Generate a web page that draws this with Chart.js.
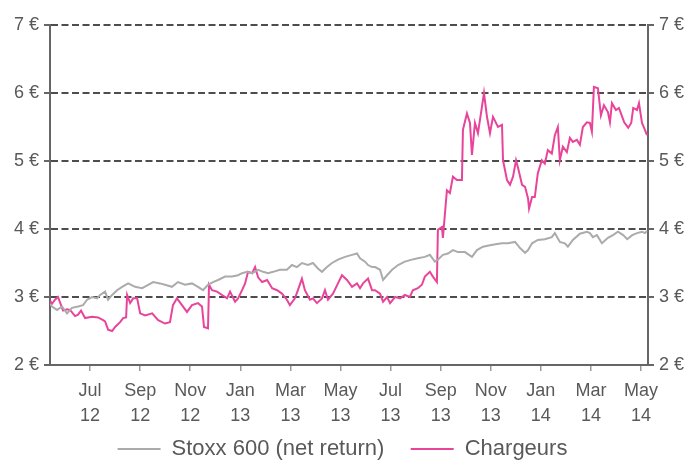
<!DOCTYPE html>
<html>
<head>
<meta charset="utf-8">
<script src="https://cdn.jsdelivr.net/npm/chart.js@4.4.1/dist/chart.umd.min.js"></script>
<style>
  html, body { margin: 0; padding: 0; background: #fff; }
  #wrap { width: 685px; height: 466px; }
</style>
</head>
<body>
<div id="wrap"><canvas id="perfChart" width="685" height="466"></canvas></div>
<script>
// months counted from Jan 2012 (6 = Jul 12)
const tickMonths = [6, 8, 10, 12, 14, 16, 18, 20, 22, 24, 26, 28]
const tickLabels = [["Jul", "12"], ["Sep", "12"], ["Nov", "12"], ["Jan", "13"], ["Mar", "13"], ["May", "13"],
                    ["Jul", "13"], ["Sep", "13"], ["Nov", "13"], ["Jan", "14"], ["Mar", "14"], ["May", "14"]]

const stoxxDates = [4.40, 4.48, 4.68, 4.88, 5.08, 5.28, 5.52, 5.72, 5.88, 6.08, 6.28, 6.40, 6.60, 6.72, 6.88, 7.08,
  7.28, 7.52, 7.80, 8.08, 8.32, 8.52, 8.79, 8.99, 9.27, 9.51, 9.79, 10.07, 10.31, 10.51, 10.71, 10.91,
  11.11, 11.39, 11.67, 11.91, 12.07, 12.27, 12.47, 12.71, 12.91, 13.11, 13.31, 13.58, 13.86, 14.06, 14.26, 14.46,
  14.70, 14.90, 15.10, 15.26, 15.46, 15.66, 15.90, 16.18, 16.46, 16.66, 16.78, 16.98, 17.10, 17.26, 17.38, 17.58,
  17.70, 17.86, 18.06, 18.30, 18.57, 18.85, 19.09, 19.37, 19.57, 19.77, 19.89, 20.09, 20.29, 20.49, 20.69, 20.97,
  21.25, 21.45, 21.69, 21.97, 22.25, 22.45, 22.69, 22.97, 23.17, 23.37, 23.49, 23.65, 23.88, 24.16, 24.44, 24.56,
  24.76, 24.96, 25.08, 25.28, 25.56, 25.84, 25.96, 26.08, 26.24, 26.44, 26.68, 26.88, 27.08, 27.29, 27.45, 27.65,
  27.84, 28.04, 28.16, 28.24]
const stoxxValues = [2.90, 2.86, 2.81, 2.86, 2.76, 2.84, 2.86, 2.88, 2.96, 3.00, 2.98, 3.03, 3.08, 2.96, 3.03, 3.10,
  3.15, 3.20, 3.15, 3.13, 3.18, 3.22, 3.20, 3.18, 3.15, 3.22, 3.18, 3.20, 3.15, 3.10, 3.18, 3.22,
  3.25, 3.30, 3.30, 3.32, 3.35, 3.37, 3.35, 3.40, 3.37, 3.35, 3.37, 3.40, 3.40, 3.47, 3.44, 3.50,
  3.47, 3.50, 3.42, 3.37, 3.44, 3.50, 3.55, 3.59, 3.62, 3.64, 3.57, 3.52, 3.47, 3.44, 3.44, 3.40,
  3.25, 3.32, 3.40, 3.47, 3.52, 3.55, 3.57, 3.59, 3.62, 3.52, 3.55, 3.62, 3.64, 3.69, 3.66, 3.66,
  3.59, 3.69, 3.74, 3.76, 3.78, 3.79, 3.79, 3.81, 3.72, 3.65, 3.69, 3.79, 3.84, 3.85, 3.88, 3.94,
  3.81, 3.79, 3.74, 3.84, 3.93, 3.96, 3.94, 3.88, 3.91, 3.79, 3.87, 3.91, 3.96, 3.91, 3.85, 3.91,
  3.94, 3.96, 3.94, 3.97]

const chargeursDates = [4.40, 4.48, 4.60, 4.72, 4.80, 4.92, 5.08, 5.20, 5.40, 5.52, 5.64, 5.80, 6.08, 6.32, 6.52, 6.60,
  6.72, 6.88, 7.00, 7.20, 7.32, 7.44, 7.48, 7.60, 7.72, 7.88, 8.00, 8.20, 8.48, 8.72, 8.99, 9.19,
  9.31, 9.47, 9.67, 9.87, 10.07, 10.31, 10.47, 10.55, 10.71, 10.75, 10.87, 11.07, 11.27, 11.47, 11.59, 11.79,
  11.91, 12.07, 12.19, 12.31, 12.47, 12.59, 12.71, 12.87, 13.07, 13.27, 13.47, 13.66, 13.86, 13.98, 14.18, 14.30,
  14.46, 14.58, 14.78, 14.90, 15.06, 15.26, 15.38, 15.50, 15.70, 15.90, 16.06, 16.26, 16.46, 16.66, 16.78, 16.90,
  17.10, 17.26, 17.38, 17.58, 17.70, 17.86, 17.98, 18.18, 18.38, 18.57, 18.77, 18.89, 19.09, 19.25, 19.37, 19.57,
  19.69, 19.85, 19.89, 20.05, 20.09, 20.25, 20.37, 20.49, 20.65, 20.85, 20.89, 21.05, 21.17, 21.25, 21.37, 21.49,
  21.65, 21.73, 21.85, 21.97, 22.09, 22.29, 22.45, 22.49, 22.65, 22.77, 22.89, 23.01, 23.09, 23.25, 23.37, 23.49,
  23.53, 23.65, 23.76, 23.88, 24.04, 24.16, 24.28, 24.44, 24.56, 24.68, 24.76, 24.88, 25.04, 25.16, 25.28, 25.44,
  25.56, 25.68, 25.84, 25.96, 26.04, 26.12, 26.28, 26.40, 26.52, 26.68, 26.76, 26.84, 27.00, 27.12, 27.25, 27.33,
  27.49, 27.61, 27.69, 27.84, 27.92, 28.04, 28.12, 28.24]
const chargeursValues = [2.95, 2.90, 2.96, 3.00, 2.92, 2.80, 2.82, 2.81, 2.72, 2.74, 2.80, 2.69, 2.71, 2.70, 2.66, 2.64,
  2.52, 2.50, 2.56, 2.63, 2.69, 2.70, 3.03, 2.91, 2.98, 2.98, 2.76, 2.73, 2.76, 2.66, 2.61, 2.63,
  2.88, 2.98, 2.88, 2.78, 2.88, 2.91, 2.86, 2.56, 2.54, 3.18, 3.10, 3.08, 3.03, 2.98, 3.08, 2.93,
  2.98, 3.10, 3.20, 3.37, 3.35, 3.44, 3.29, 3.22, 3.25, 3.13, 3.10, 3.05, 2.96, 2.88, 2.98, 3.10,
  3.27, 3.10, 2.96, 2.98, 2.91, 2.98, 3.10, 2.96, 3.05, 3.20, 3.32, 3.25, 3.15, 3.20, 3.13, 3.20,
  3.27, 3.10, 3.10, 3.05, 2.93, 3.00, 2.91, 3.00, 2.98, 3.03, 3.00, 3.10, 3.13, 3.18, 3.30, 3.37,
  3.30, 3.22, 3.99, 4.03, 3.87, 4.57, 4.53, 4.77, 4.72, 4.72, 5.46, 5.70, 5.56, 5.09, 5.56, 5.41,
  5.80, 6.00, 5.65, 5.41, 5.65, 5.50, 5.53, 5.01, 4.72, 4.65, 4.77, 5.01, 4.90, 4.65, 4.62, 4.45,
  4.30, 4.47, 4.47, 4.82, 5.01, 4.96, 5.16, 5.11, 5.38, 5.50, 5.01, 5.21, 5.13, 5.34, 5.28, 5.31,
  5.24, 5.50, 5.57, 5.56, 5.43, 6.09, 6.07, 5.67, 5.82, 5.72, 5.57, 5.85, 5.75, 5.78, 5.65, 5.57,
  5.49, 5.56, 5.78, 5.75, 5.85, 5.56, 5.49, 5.38]

const textColor = "#595959"
const axisColor = "#666666"
const fontFamily = "'Liberation Sans', Arial, sans-serif"

function toPoints(dates, values) {
    return dates.map(function (d, i) {
        return { x: d, y: values[i] }
    })
}

const data = {
    datasets: [{
        label: "Stoxx 600 (net return)",
        data: toPoints(stoxxDates, stoxxValues),
        borderColor: "#ababab",
        backgroundColor: "#ababab",
        borderWidth: 2,
        pointRadius: 0,
        tension: 0,
        yAxisID: "y",
    }, {
        label: "Chargeurs",
        data: toPoints(chargeursDates, chargeursValues),
        borderColor: "#e8459a",
        backgroundColor: "#e8459a",
        borderWidth: 2,
        pointRadius: 0,
        tension: 0,
        yAxisID: "y",
    }]
}

const yTicks = {
    stepSize: 1,
    color: textColor,
    font: { family: fontFamily, size: 18 },
    padding: 5,
    callback: function (v) { return v + " €" }
}

const config = {
    type: "line",
    data,
    options: {
        responsive: false,
        animation: false,
        layout: { padding: { top: 25, left: 0, right: 0, bottom: -4 } },
        plugins: {
            legend: {
                position: "bottom",
                labels: {
                    usePointStyle: true,
                    pointStyle: "line",
                    pointStyleWidth: 43,
                    boxHeight: 22,
                    padding: 8,
                    color: textColor,
                    font: { family: fontFamily, size: 22 },
                    // wider gap between the two entries
                    generateLabels: function (chart) {
                        const items = Chart.defaults.plugins.legend.labels.generateLabels(chart)
                        items[0].text = items[0].text + "   "
                        return items
                    }
                }
            },
            tooltip: { enabled: false }
        },
        scales: {
            x: {
                type: "linear",
                min: 4.40,
                max: 28.28,
                afterBuildTicks: function (scale) {
                    scale.ticks = tickMonths.map(function (m) { return { value: m } })
                },
                afterFit: function (scale) { scale.height = 65 },
                ticks: {
                    color: textColor,
                    font: { family: fontFamily, size: 18, lineHeight: 1.4 },
                    padding: 7,
                    maxRotation: 0,
                    autoSkip: false,
                    callback: function (v) {
                        const i = tickMonths.indexOf(v)
                        return i >= 0 ? tickLabels[i] : ""
                    }
                },
                grid: { drawOnChartArea: false, tickLength: 6, color: "#999999", lineWidth: 1.5 },
                border: { color: axisColor, width: 2 }
            },
            y: {
                position: "left",
                min: 2,
                max: 7,
                ticks: yTicks,
                afterFit: function (scale) { scale.width = 50 },
                grid: { color: "#4d4d4d", lineWidth: 2, tickLength: 6, tickBorderDash: [], tickColor: axisColor },
                border: { color: axisColor, width: 2, dash: [7, 3.5] }
            },
            y2: {
                position: "right",
                min: 2,
                max: 7,
                ticks: yTicks,
                afterFit: function (scale) { scale.width = 37 },
                grid: { drawOnChartArea: false, color: axisColor, lineWidth: 2, tickLength: 6 },
                border: { color: axisColor, width: 2 }
            }
        }
    }
}

const myChart = new Chart(document.getElementById("perfChart"), config)
</script>
</body>
</html>
